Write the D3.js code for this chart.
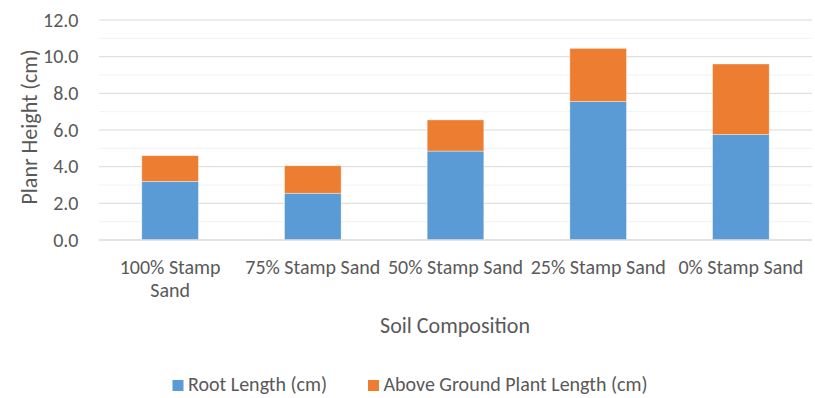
<!DOCTYPE html>
<html>
<head>
<meta charset="utf-8">
<script src="https://cdn.jsdelivr.net/npm/d3@7"></script>
<style>
  html, body { margin: 0; padding: 0; background: #fff; }
  svg { display: block; font-family: Calibri, Carlito, Lato, sans-serif; }
</style>
</head>
<body>
<svg id="chart" width="815" height="398"></svg>
<script>
// Soil composition groups (tick labels, wrapped as in the category axis)
const categories = ["100% Stamp Sand", "75% Stamp Sand", "50% Stamp Sand", "25% Stamp Sand", "0% Stamp Sand"];
const categoryLines = [["100% Stamp", "Sand"], ["75% Stamp Sand"], ["50% Stamp Sand"], ["25% Stamp Sand"], ["0% Stamp Sand"]];

// Series values (cm)
const rootLength = [3.2, 2.55, 4.85, 7.55, 5.75];
const aboveGroundLength = [1.4, 1.5, 1.7, 2.9, 3.85];

const seriesNames = ["Root Length (cm)", "Above Ground Plant Length (cm)"];
const seriesColors = ["#5B9BD5", "#ED7D31"];

const yTicks = [0, 2, 4, 6, 8, 10, 12];
const yMinorTicks = [1, 3, 5, 7, 9, 11];

const svg = d3.select("#chart");
const textColor = "#595959";
const plotLeft = 99, plotRight = 812;

const x = d3.scaleBand().domain(categories).range([plotLeft, plotRight]).paddingInner(0.603).paddingOuter(0.3);
const y = d3.scaleLinear().domain([0, 12]).range([240, 20]);

// Minor gridlines
svg.append("g").selectAll("line").data(yMinorTicks).join("line")
  .attr("x1", plotLeft).attr("x2", plotRight)
  .attr("y1", d => y(d)).attr("y2", d => y(d))
  .attr("stroke", "#f2f2f2").attr("stroke-width", 1);

// Major gridlines
svg.append("g").selectAll("line").data(yTicks.filter(d => d > 0)).join("line")
  .attr("x1", plotLeft).attr("x2", plotRight)
  .attr("y1", d => y(d)).attr("y2", d => y(d))
  .attr("stroke", "#d9d9d9").attr("stroke-width", 1);

// Stacked bars
const rows = categories.map((c, i) => ({ cat: c, root: rootLength[i], above: aboveGroundLength[i] }));
const layers = d3.stack().keys(["root", "above"])(rows);

svg.append("g").selectAll("g").data(layers).join("g")
  .attr("fill", (d, i) => seriesColors[i])
  .selectAll("rect").data(d => d).join("rect")
  .attr("x", d => x(d.data.cat))
  .attr("width", x.bandwidth())
  .attr("y", d => y(d[1]))
  .attr("height", d => y(d[0]) - y(d[1]))
  .attr("stroke", "#ffffff").attr("stroke-opacity", 0.5).attr("stroke-width", 0.75);

// Category axis line
svg.append("line")
  .attr("x1", plotLeft).attr("x2", plotRight)
  .attr("y1", y(0)).attr("y2", y(0))
  .attr("stroke", "#d9d9d9").attr("stroke-width", 1.5);

// Value axis tick labels
svg.append("g").selectAll("text").data(yTicks).join("text")
  .attr("x", 78.5).attr("y", d => y(d))
  .attr("dy", "0.33em")
  .attr("text-anchor", "end")
  .attr("fill", textColor).attr("font-size", 20)
  .text(d => d3.format(".1f")(d));

// Category tick labels
const xl = svg.append("g").selectAll("text").data(categories).join("text")
  .attr("text-anchor", "middle")
  .attr("fill", textColor).attr("font-size", 20)
  .attr("transform", d => `translate(${x(d) + x.bandwidth() / 2},274)`);
xl.selectAll("tspan").data((d, i) => categoryLines[i]).join("tspan")
  .attr("x", 0).attr("dy", (d, j) => j === 0 ? 0 : 23)
  .text(d => d);

// Axis titles
svg.append("text")
  .attr("x", 455).attr("y", 333)
  .attr("text-anchor", "middle")
  .attr("fill", textColor).attr("font-size", 22)
  .text("Soil Composition");

svg.append("text")
  .attr("transform", "translate(36.5,127) rotate(-90)")
  .attr("text-anchor", "middle")
  .attr("fill", textColor).attr("font-size", 22)
  .text("Planr Height (cm)");

// Legend
const legendX = [172.5, 368];
const legend = svg.append("g").selectAll("g").data(seriesNames).join("g")
  .attr("transform", (d, i) => `translate(${legendX[i]},0)`);
legend.append("rect")
  .attr("x", 0).attr("y", 380).attr("width", 11).attr("height", 11)
  .attr("fill", (d, i) => seriesColors[i]);
legend.append("text")
  .attr("x", 15.5).attr("y", 390.5)
  .attr("fill", textColor).attr("font-size", 20)
  .text(d => d);
</script>
</body>
</html>
